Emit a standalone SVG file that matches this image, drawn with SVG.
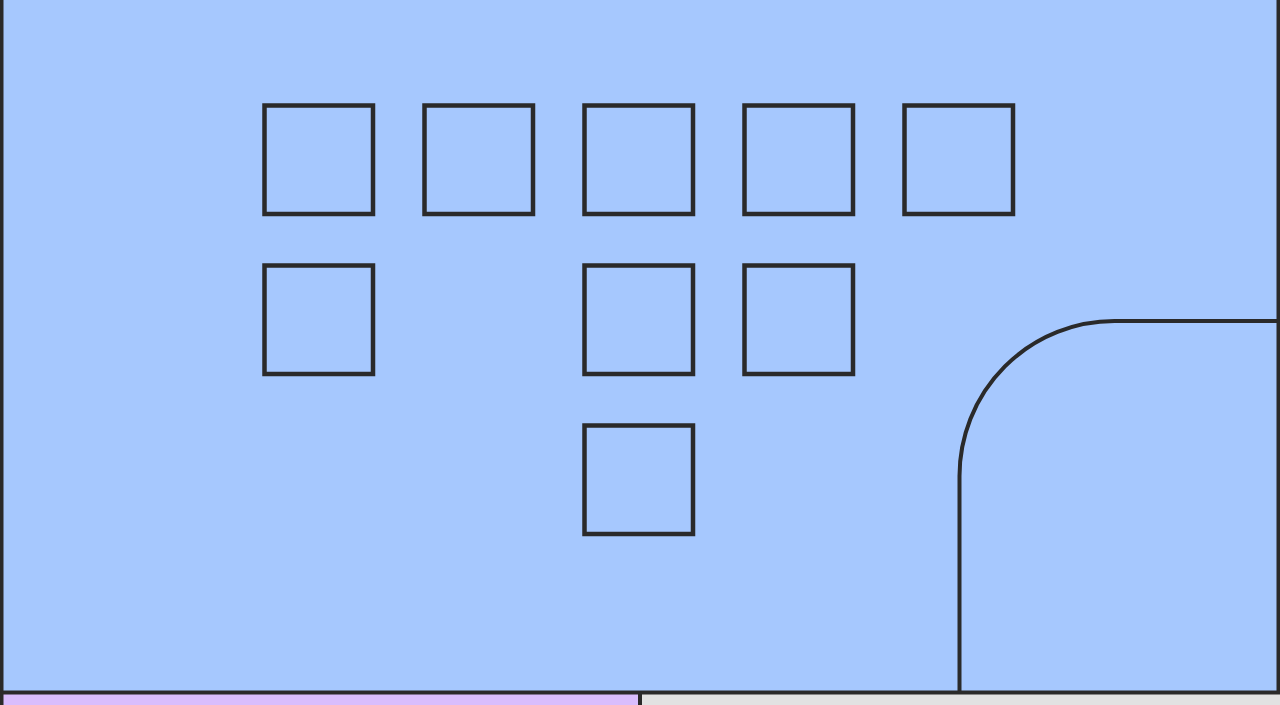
<svg xmlns="http://www.w3.org/2000/svg" width="1280" height="705" viewBox="0 0 1280 705">
<style>
.ln{fill:none;stroke:#2a2a2a;stroke-width:4}
.sq{fill:none;stroke:#2a2a2a;stroke-width:4.5}
</style>
<rect x="0" y="0" width="1280" height="705" fill="#a6c8fe"/>
<g id="bottom-left"><rect x="0" y="693" width="640" height="12" fill="#d9bdfd"/></g>
<g id="bottom-right"><rect x="640" y="693" width="640" height="12" fill="#e2e2e2"/></g>
<g id="frame">
<line class="ln" x1="1.5" y1="0" x2="1.5" y2="705"/>
<line class="ln" x1="1278.5" y1="0" x2="1278.5" y2="693"/>
<line class="ln" x1="0" y1="692.5" x2="1280" y2="692.5"/>
<line class="ln" x1="640" y1="692" x2="640" y2="705"/>
</g>
<g id="corner-room"><path class="ln" d="M959.5,693 V476 A155,155 0 0 1 1114.5,321 H1280"/></g>
<g id="sq-1"><rect class="sq" x="264.5" y="105.5" width="108.5" height="108.5"/></g>
<g id="sq-2"><rect class="sq" x="424.5" y="105.5" width="108.5" height="108.5"/></g>
<g id="sq-3"><rect class="sq" x="584.5" y="105.5" width="108.5" height="108.5"/></g>
<g id="sq-4"><rect class="sq" x="744.5" y="105.5" width="108.5" height="108.5"/></g>
<g id="sq-5"><rect class="sq" x="904.5" y="105.5" width="108.5" height="108.5"/></g>
<g id="sq-6"><rect class="sq" x="264.5" y="265.5" width="108.5" height="108.5"/></g>
<g id="sq-7"><rect class="sq" x="584.5" y="265.5" width="108.5" height="108.5"/></g>
<g id="sq-8"><rect class="sq" x="744.5" y="265.5" width="108.5" height="108.5"/></g>
<g id="sq-9"><rect class="sq" x="584.5" y="425.5" width="108.5" height="108.5"/></g>
<g id="connectors"></g>
</svg>
